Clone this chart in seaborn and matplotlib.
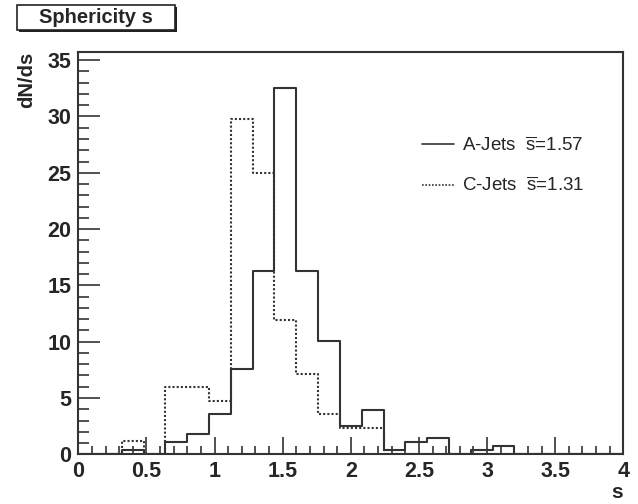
import numpy as np
import pandas as pd
import seaborn as sns
import matplotlib.pyplot as plt
from matplotlib.patches import Rectangle

# histogram bins: 25 bins of width 0.16 between 0 and 4
bin_edges = np.linspace(0, 4, 26)
bin_centers = (bin_edges[:-1] + bin_edges[1:]) / 2

# dN/ds
a_jets = [0, 0, 0.4, 0, 1.1, 1.8, 3.6, 7.6, 16.3, 32.5, 16.3, 10.1, 2.55,
          3.9, 0.4, 1.1, 1.45, 0, 0.36, 0.72, 0, 0, 0, 0, 0]
c_jets = [0, 0, 1.2, 0, 6.0, 6.0, 4.75, 29.8, 25.0, 11.9, 7.15, 3.6, 2.35,
          2.35, 0, 0, 0, 0, 0, 0, 0, 0, 0, 0, 0]
labels = ["A-Jets  $\\overline{\\mathrm{s}}$=1.57", "C-Jets  $\\overline{\\mathrm{s}}$=1.31"]

df = pd.DataFrame({
    "s": np.concatenate([bin_centers, bin_centers]),
    "w": a_jets + c_jets,
    "sample": [labels[0]] * len(a_jets) + [labels[1]] * len(c_jets),
})

sns.set_style("ticks")
plt.rcParams["font.family"] = ["Liberation Sans", "DejaVu Sans"]
plt.rcParams["mathtext.fontset"] = "custom"
plt.rcParams["mathtext.rm"] = "Liberation Sans"

fig = plt.figure(figsize=(6.38, 5.04), dpi=100)
ax = fig.add_axes([0.1227, 0.0986, 0.8543, 0.7988])

line_col = "#333333"
for lab, ls in zip(labels, ["-", (0, (1, 1))]):
    sns.histplot(data=df[df["sample"] == lab], x="s", weights="w",
                 bins=len(bin_centers), binrange=(bin_edges[0], bin_edges[-1]),
                 element="step", fill=False, color=line_col, linestyle=ls,
                 linewidth=1.5, ax=ax, label=lab)

ax.set_xlim(0, 4)
ax.set_ylim(0, 35.75)
ax.set_xticks(np.arange(0, 4.01, 0.5))
ax.set_xticklabels(["0", "0.5", "1", "1.5", "2", "2.5", "3", "3.5", "4"])
ax.set_xticks(np.arange(0, 4.01, 0.1), minor=True)
ax.set_yticks(np.arange(0, 36, 5))
ax.set_yticks(np.arange(0, 36, 1), minor=True)
ax.tick_params(axis="x", which="major", direction="in", length=12, width=1.2,
               labelsize=15.5, pad=5, color=line_col)
ax.tick_params(axis="x", which="minor", direction="in", length=6, width=1.2, color=line_col)
ax.tick_params(axis="y", which="major", direction="in", length=16, width=1.2,
               labelsize=15.5, pad=5, color=line_col)
ax.tick_params(axis="y", which="minor", direction="in", length=8, width=1.2, color=line_col)
for t in ax.get_xticklabels() + ax.get_yticklabels():
    t.set_fontweight("bold")
for sp in ax.spines.values():
    sp.set_color(line_col)
    sp.set_linewidth(1.5)

ax.set_xlabel("")
ax.set_ylabel("")
fig.text(617 / 638, 1 - 492 / 504, "s", fontsize=15, fontweight="bold",
         ha="center", va="center")
fig.text(27 / 638, 1 - 52 / 504, "dN/ds", fontsize=14.5, fontweight="bold",
         rotation=90, ha="center", va="top")

leg = ax.legend(loc="upper left", bbox_to_anchor=(0.599, 0.832), frameon=False,
                fontsize=13.5, handlelength=1.75, labelspacing=1.15, handletextpad=0.4)
for h in leg.get_lines():
    h.set_linewidth(1.2)

# title box with shadow
fig.patches.append(Rectangle((19 / 638, 1 - 32 / 504), 158 / 638, 25 / 504,
                             transform=fig.transFigure, facecolor="#222222",
                             edgecolor="none", zorder=1))
fig.patches.append(Rectangle((17 / 638, 1 - 30 / 504), 158 / 638, 25 / 504,
                             transform=fig.transFigure, facecolor="white",
                             edgecolor="#222222", linewidth=1.2, zorder=2))
fig.text(96 / 638, 1 - 17.5 / 504, "Sphericity s", fontsize=14.5, fontweight="bold",
         ha="center", va="center", zorder=3)

fig.savefig("out.png", dpi=100)
